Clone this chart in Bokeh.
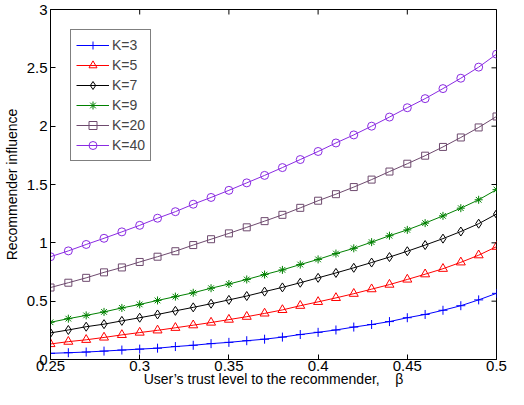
import math
from bokeh.plotting import figure
from bokeh.models import FixedTicker, Range1d, Legend, LegendItem
from bokeh.embed import file_html
from bokeh.resources import INLINE

beta = [0.25, 0.26, 0.27, 0.28, 0.29, 0.30, 0.31, 0.32, 0.33, 0.34, 0.35, 0.36, 0.37,
        0.38, 0.39, 0.40, 0.41, 0.42, 0.43, 0.44, 0.45, 0.46, 0.47, 0.48, 0.49, 0.50]

k3 = [0.053, 0.058, 0.064, 0.072, 0.081, 0.089, 0.097, 0.111, 0.122, 0.136, 0.147, 0.161, 0.174,
      0.192, 0.214, 0.233, 0.253, 0.278, 0.300, 0.325, 0.358, 0.386, 0.422, 0.461, 0.511, 0.567]
k5 = [0.133, 0.153, 0.169, 0.189, 0.211, 0.231, 0.250, 0.272, 0.294, 0.317, 0.342, 0.367, 0.395,
      0.425, 0.461, 0.494, 0.528, 0.564, 0.603, 0.642, 0.686, 0.731, 0.778, 0.833, 0.894, 0.967]
k7 = [0.228, 0.253, 0.281, 0.303, 0.331, 0.358, 0.386, 0.417, 0.447, 0.478, 0.511, 0.544, 0.582,
      0.618, 0.658, 0.700, 0.742, 0.786, 0.831, 0.878, 0.928, 0.981, 1.036, 1.097, 1.164, 1.247]
k9 = [0.319, 0.350, 0.378, 0.408, 0.442, 0.472, 0.506, 0.539, 0.572, 0.611, 0.647, 0.686, 0.728,
      0.768, 0.814, 0.858, 0.908, 0.953, 1.006, 1.061, 1.111, 1.169, 1.231, 1.297, 1.369, 1.456]
k20 = [0.617, 0.658, 0.700, 0.747, 0.789, 0.836, 0.881, 0.928, 0.981, 1.031, 1.081, 1.133, 1.186,
       1.240, 1.300, 1.361, 1.417, 1.478, 1.542, 1.611, 1.678, 1.747, 1.822, 1.903, 1.989, 2.083]
k40 = [0.881, 0.931, 0.986, 1.039, 1.094, 1.150, 1.211, 1.267, 1.331, 1.389, 1.450, 1.514, 1.578,
       1.645, 1.714, 1.783, 1.856, 1.925, 2.000, 2.078, 2.158, 2.236, 2.322, 2.411, 2.506, 2.617]

series_labels = ["K=3", "K=5", "K=7", "K=9", "K=20", "K=40"]
series_values = [k3, k5, k7, k9, k20, k40]

x_ticks = [0.25, 0.30, 0.35, 0.40, 0.45, 0.50]
x_tick_labels = ["0.25", "0.3", "0.35", "0.4", "0.45", "0.5"]
y_ticks = [0, 0.5, 1, 1.5, 2, 2.5, 3]
y_tick_labels = ["0", "0.5", "1", "1.5", "2", "2.5", "3"]

colors = ["#0000ff", "#ff0000", "#000000", "#008000", "#6e4a6e", "#8a2be2"]
markers = ["cross", "triangle", "diamond", "asterisk", "square", "circle"]
sizes = [9, 9, 9, 8, 7, 8]

FONT = "Liberation Sans"

p = figure(width=508, height=389, output_backend="svg", toolbar_location=None,
           x_range=Range1d(x_ticks[0], x_ticks[-1]), y_range=Range1d(y_ticks[0], y_ticks[-1]),
           min_border_left=43, min_border_right=12, min_border_top=9, min_border_bottom=0)

p.xgrid.visible = False
p.ygrid.visible = False
p.outline_line_color = "black"
p.outline_line_width = 1
p.background_fill_color = "white"
p.border_fill_color = "white"

items = []
for lab, vals, c, m, s in zip(series_labels, series_values, colors, markers, sizes):
    r1 = p.line(beta, vals, line_color=c, line_width=1)
    r2 = p.scatter(beta, vals, marker=m, size=s, line_color=c, fill_color=None, line_width=1)
    items.append(LegendItem(label=lab, renderers=[r1, r2]))

# inward ticks on the right and top edges (half of each dash is clipped by the frame)
p.scatter([x_ticks[-1]] * len(y_ticks), y_ticks, marker="dash", size=10,
          line_color="black", line_width=1)
p.scatter(x_ticks, [y_ticks[-1]] * len(x_ticks), marker="dash", size=10, angle=math.pi / 2,
          line_color="black", line_width=1)

legend = Legend(items=items, location="top_left", margin=20,
                border_line_color="black", border_line_width=1,
                background_fill_color="white", background_fill_alpha=1,
                label_text_font=FONT, label_text_font_size="14px",
                glyph_width=33, glyph_height=20, label_height=20,
                label_standoff=3, spacing=0, padding=5)
p.add_layout(legend, "center")

for ax, ticks, labels in ((p.xaxis[0], x_ticks, x_tick_labels), (p.yaxis[0], y_ticks, y_tick_labels)):
    ax.ticker = FixedTicker(ticks=ticks)
    ax.major_label_overrides = {t: l for t, l in zip(ticks, labels)}
    ax.major_tick_in = 5
    ax.major_tick_out = 0
    ax.minor_tick_in = 0
    ax.minor_tick_out = 0
    ax.axis_line_color = "black"
    ax.major_tick_line_color = "black"
    ax.major_label_text_font = FONT
    ax.major_label_text_font_size = "15px"
    ax.major_label_text_color = "black"
    ax.axis_label_text_font = FONT
    ax.axis_label_text_font_size = "14px"
    ax.axis_label_text_font_style = "normal"
    ax.axis_label_text_color = "black"

p.xaxis.axis_label = "User\u2019s trust level to the recommender,\u00a0\u00a0\u00a0\u00a0\u03b2"
p.yaxis.axis_label = "Recommender influence"
p.xaxis.major_label_standoff = 1
p.xaxis.axis_label_standoff = -3
p.yaxis.major_label_standoff = 3
p.yaxis.axis_label_standoff = 4

open("out.html", "w").write(file_html(p, INLINE))
